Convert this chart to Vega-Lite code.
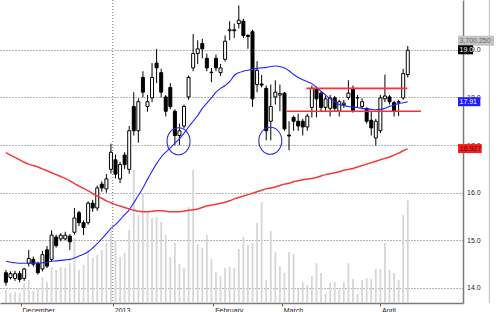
{
  "$schema": "https://vega.github.io/schema/vega-lite/v6.json",
  "width": 463,
  "height": 303,
  "autosize": {"type": "none"},
  "padding": {"left": 0, "top": 0, "right": 37, "bottom": 9},
  "background": "white",
  "config": {
    "view": {"stroke": null},
    "font": "Liberation Sans"
  },
  "datasets": {
    "candles": [
      {"i":0,"o":14.32,"h":14.38,"l":14.05,"c":14.12,"v":467025,"m20":14.56,"m50":16.84},
      {"i":1,"o":14.22,"h":14.35,"l":14.18,"c":14.30,"v":359250,"m20":14.54,"m50":16.79},
      {"i":2,"o":14.20,"h":14.36,"l":14.15,"c":14.30,"v":395175,"m20":14.53,"m50":16.74},
      {"i":3,"o":14.30,"h":14.36,"l":14.12,"c":14.18,"v":359250,"m20":14.52,"m50":16.69},
      {"i":4,"o":14.20,"h":14.42,"l":14.15,"c":14.40,"v":718500,"m20":14.52,"m50":16.64},
      {"i":5,"o":14.52,"h":14.80,"l":14.45,"c":14.62,"v":826275,"m20":14.52,"m50":16.60},
      {"i":6,"o":14.60,"h":14.66,"l":14.45,"c":14.50,"v":431100,"m20":14.52,"m50":16.57},
      {"i":7,"o":14.52,"h":14.55,"l":14.28,"c":14.32,"v":538875,"m20":14.52,"m50":16.54},
      {"i":8,"o":14.40,"h":14.78,"l":14.35,"c":14.70,"v":934050,"m20":14.53,"m50":16.50},
      {"i":9,"o":14.80,"h":14.88,"l":14.42,"c":14.46,"v":754425,"m20":14.54,"m50":16.46},
      {"i":10,"o":14.60,"h":15.21,"l":14.55,"c":15.11,"v":1293300,"m20":14.56,"m50":16.42},
      {"i":11,"o":15.07,"h":15.12,"l":14.85,"c":14.89,"v":1185525,"m20":14.57,"m50":16.38},
      {"i":12,"o":15.03,"h":15.15,"l":14.98,"c":15.11,"v":1293300,"m20":14.58,"m50":16.34},
      {"i":13,"o":15.03,"h":15.18,"l":15.00,"c":15.11,"v":1257375,"m20":14.59,"m50":16.30},
      {"i":14,"o":15.09,"h":15.13,"l":14.80,"c":14.97,"v":1437000,"m20":14.60,"m50":16.25},
      {"i":15,"o":15.17,"h":15.68,"l":15.12,"c":15.47,"v":2335125,"m20":14.63,"m50":16.19},
      {"i":16,"o":15.58,"h":15.62,"l":15.30,"c":15.37,"v":1185525,"m20":14.67,"m50":16.14},
      {"i":17,"o":15.37,"h":15.42,"l":15.11,"c":15.27,"v":1365150,"m20":14.71,"m50":16.09},
      {"i":18,"o":15.37,"h":15.82,"l":15.33,"c":15.78,"v":1904025,"m20":14.76,"m50":16.04},
      {"i":19,"o":15.78,"h":15.85,"l":15.60,"c":15.68,"v":1616625,"m20":14.84,"m50":15.98},
      {"i":20,"o":15.68,"h":16.15,"l":15.62,"c":16.10,"v":1724400,"m20":14.93,"m50":15.93},
      {"i":21,"o":16.18,"h":16.24,"l":16.02,"c":16.10,"v":1904025,"m20":15.03,"m50":15.88},
      {"i":22,"o":16.08,"h":16.39,"l":16.00,"c":16.29,"v":2155500,"m20":15.14,"m50":15.83},
      {"i":23,"o":16.49,"h":17.03,"l":16.40,"c":16.85,"v":2622525,"m20":15.25,"m50":15.79},
      {"i":24,"o":16.69,"h":16.80,"l":16.30,"c":16.39,"v":2263275,"m20":15.33,"m50":15.75},
      {"i":25,"o":16.29,"h":16.65,"l":16.20,"c":16.59,"v":1652550,"m20":15.43,"m50":15.72},
      {"i":26,"o":16.79,"h":16.85,"l":16.50,"c":16.59,"v":1796250,"m20":15.54,"m50":15.69},
      {"i":27,"o":16.49,"h":17.40,"l":16.40,"c":17.30,"v":2622525,"m20":15.64,"m50":15.66},
      {"i":28,"o":17.81,"h":18.11,"l":17.20,"c":17.30,"v":4778025,"m20":15.79,"m50":15.63},
      {"i":29,"o":17.30,"h":17.98,"l":17.05,"c":17.91,"v":3161400,"m20":15.94,"m50":15.61},
      {"i":30,"o":18.42,"h":18.55,"l":18.00,"c":18.11,"v":3951750,"m20":16.10,"m50":15.60},
      {"i":31,"o":17.81,"h":18.05,"l":17.70,"c":17.91,"v":3233250,"m20":16.28,"m50":15.60},
      {"i":32,"o":17.99,"h":18.72,"l":17.90,"c":18.42,"v":3053625,"m20":16.45,"m50":15.61},
      {"i":33,"o":18.72,"h":19.02,"l":18.30,"c":18.62,"v":3089550,"m20":16.61,"m50":15.62},
      {"i":34,"o":18.52,"h":18.60,"l":18.00,"c":18.11,"v":2909925,"m20":16.75,"m50":15.62},
      {"i":35,"o":18.01,"h":18.05,"l":17.60,"c":17.71,"v":2442900,"m20":16.85,"m50":15.61},
      {"i":36,"o":18.21,"h":18.30,"l":17.75,"c":17.81,"v":1652550,"m20":16.94,"m50":15.60},
      {"i":37,"o":17.71,"h":17.75,"l":17.00,"c":17.20,"v":2155500,"m20":17.04,"m50":15.60},
      {"i":38,"o":17.20,"h":17.45,"l":17.00,"c":17.30,"v":1401075,"m20":17.13,"m50":15.60},
      {"i":39,"o":17.40,"h":17.85,"l":17.35,"c":17.81,"v":1257375,"m20":17.25,"m50":15.61},
      {"i":40,"o":18.01,"h":18.46,"l":17.95,"c":18.42,"v":3448800,"m20":17.38,"m50":15.63},
      {"i":41,"o":18.62,"h":19.33,"l":18.55,"c":18.92,"v":4778025,"m20":17.50,"m50":15.64},
      {"i":42,"o":18.92,"h":19.20,"l":18.70,"c":19.02,"v":2119575,"m20":17.62,"m50":15.66},
      {"i":43,"o":19.13,"h":19.23,"l":18.82,"c":19.02,"v":1975875,"m20":17.77,"m50":15.69},
      {"i":44,"o":18.82,"h":18.92,"l":18.55,"c":18.62,"v":2442900,"m20":17.88,"m50":15.72},
      {"i":45,"o":18.52,"h":18.62,"l":18.32,"c":18.53,"v":1580700,"m20":17.99,"m50":15.74},
      {"i":46,"o":18.82,"h":18.90,"l":18.55,"c":18.62,"v":1113675,"m20":18.11,"m50":15.76},
      {"i":47,"o":18.52,"h":18.70,"l":18.45,"c":18.62,"v":969975,"m20":18.19,"m50":15.78},
      {"i":48,"o":18.80,"h":19.30,"l":18.75,"c":19.18,"v":1257375,"m20":18.25,"m50":15.80},
      {"i":49,"o":19.40,"h":19.60,"l":19.20,"c":19.42,"v":1293300,"m20":18.33,"m50":15.83},
      {"i":50,"o":19.42,"h":19.55,"l":19.25,"c":19.40,"v":1257375,"m20":18.46,"m50":15.87},
      {"i":51,"o":19.55,"h":19.93,"l":19.45,"c":19.62,"v":1939950,"m20":18.52,"m50":15.90},
      {"i":52,"o":19.60,"h":19.65,"l":19.25,"c":19.30,"v":2371050,"m20":18.55,"m50":15.93},
      {"i":53,"o":19.30,"h":19.33,"l":19.02,"c":19.28,"v":2083650,"m20":18.57,"m50":15.96},
      {"i":54,"o":19.38,"h":19.42,"l":17.80,"c":17.97,"v":2155500,"m20":18.59,"m50":15.99},
      {"i":55,"o":18.27,"h":18.76,"l":18.11,"c":18.57,"v":2874000,"m20":18.61,"m50":16.02},
      {"i":56,"o":18.28,"h":18.47,"l":18.21,"c":18.26,"v":3628425,"m20":18.62,"m50":16.05},
      {"i":57,"o":18.19,"h":18.25,"l":17.10,"c":17.30,"v":826275,"m20":18.63,"m50":16.08},
      {"i":58,"o":17.50,"h":18.27,"l":17.10,"c":17.81,"v":2586600,"m20":18.65,"m50":16.10},
      {"i":59,"o":18.01,"h":18.36,"l":17.85,"c":18.11,"v":1832175,"m20":18.66,"m50":16.12},
      {"i":60,"o":18.05,"h":18.27,"l":17.71,"c":18.08,"v":1329225,"m20":18.65,"m50":16.15},
      {"i":61,"o":18.09,"h":18.11,"l":17.30,"c":17.34,"v":1077750,"m20":18.62,"m50":16.18},
      {"i":62,"o":17.21,"h":17.50,"l":16.89,"c":17.19,"v":1832175,"m20":18.56,"m50":16.20},
      {"i":63,"o":17.58,"h":17.62,"l":17.30,"c":17.50,"v":1760325,"m20":18.48,"m50":16.23},
      {"i":64,"o":17.50,"h":17.66,"l":17.30,"c":17.40,"v":502950,"m20":18.42,"m50":16.25},
      {"i":65,"o":17.50,"h":17.55,"l":17.20,"c":17.38,"v":754425,"m20":18.37,"m50":16.27},
      {"i":66,"o":17.38,"h":17.66,"l":17.30,"c":17.61,"v":646650,"m20":18.33,"m50":16.29},
      {"i":67,"o":17.79,"h":18.25,"l":17.58,"c":18.19,"v":969975,"m20":18.29,"m50":16.30},
      {"i":68,"o":18.17,"h":18.23,"l":17.58,"c":17.97,"v":1437000,"m20":18.21,"m50":16.32},
      {"i":69,"o":18.09,"h":18.12,"l":17.70,"c":17.79,"v":1077750,"m20":18.13,"m50":16.35},
      {"i":70,"o":17.79,"h":18.03,"l":17.70,"c":17.97,"v":323325,"m20":18.05,"m50":16.38},
      {"i":71,"o":17.77,"h":18.05,"l":17.60,"c":17.99,"v":718500,"m20":17.97,"m50":16.40},
      {"i":72,"o":17.99,"h":18.03,"l":17.70,"c":17.77,"v":754425,"m20":17.91,"m50":16.42},
      {"i":73,"o":17.71,"h":17.95,"l":17.60,"c":17.91,"v":538875,"m20":17.85,"m50":16.44},
      {"i":74,"o":17.85,"h":17.95,"l":17.78,"c":17.88,"v":754425,"m20":17.83,"m50":16.47},
      {"i":75,"o":18.00,"h":18.36,"l":17.95,"c":18.09,"v":1437000,"m20":17.81,"m50":16.49},
      {"i":76,"o":18.19,"h":18.25,"l":17.68,"c":17.73,"v":862200,"m20":17.80,"m50":16.51},
      {"i":77,"o":17.99,"h":18.05,"l":17.80,"c":18.00,"v":323325,"m20":17.79,"m50":16.54},
      {"i":78,"o":17.81,"h":17.98,"l":17.75,"c":17.91,"v":826275,"m20":17.77,"m50":16.57},
      {"i":79,"o":17.77,"h":17.79,"l":17.45,"c":17.50,"v":898125,"m20":17.76,"m50":16.60},
      {"i":80,"o":17.52,"h":17.71,"l":17.20,"c":17.36,"v":862200,"m20":17.75,"m50":16.63},
      {"i":81,"o":17.15,"h":17.55,"l":16.99,"c":17.50,"v":1221450,"m20":17.74,"m50":16.66},
      {"i":82,"o":17.30,"h":18.05,"l":17.25,"c":17.99,"v":1221450,"m20":17.75,"m50":16.69},
      {"i":83,"o":17.97,"h":18.48,"l":17.90,"c":18.03,"v":2155500,"m20":17.77,"m50":16.72},
      {"i":84,"o":18.01,"h":18.05,"l":17.85,"c":17.91,"v":1185525,"m20":17.81,"m50":16.75},
      {"i":85,"o":17.89,"h":17.93,"l":17.60,"c":17.71,"v":1077750,"m20":17.84,"m50":16.79},
      {"i":86,"o":17.90,"h":17.95,"l":17.61,"c":17.91,"v":826275,"m20":17.87,"m50":16.83},
      {"i":87,"o":17.99,"h":18.60,"l":17.95,"c":18.50,"v":3161400,"m20":17.89,"m50":16.88},
      {"i":88,"o":18.48,"h":19.08,"l":18.42,"c":18.99,"v":3700250,"m20":17.91,"m50":16.92}
    ],
    "levels": [
      {"a": 65.8, "b": 87.9, "p": 18.19},
      {"a": 61.5, "b": 90.9, "p": 17.71}
    ],
    "rings": [
      {"ci": 37.8, "cp": 17.08},
      {"ci": 57.9, "cp": 17.09}
    ],
    "tags": [
      {"k": "vol", "v": 19.19, "t": "3,700,250"},
      {"k": "close", "v": 19.0, "t": "19.0"},
      {"k": "ma20", "v": 17.91, "t": "17.91"},
      {"k": "ma50", "v": 16.927, "t": "16.927"}
    ],
    "yearline": [{"xg": 23.4}]
  },
  "layer": [
    {
      "data": {"name": "candles"},
      "mark": {"type": "bar", "size": 1.8, "color": "#d6d6d6"},
      "encoding": {
        "x": {"field": "i", "type": "quantitative", "title": null, "scale": {"domain": [-0.2, 99], "nice": false, "zero": false},
          "axis": {"orient": "bottom", "title": null, "values": [3.2, 23.4, 45.4, 60.4, 81.9], "labelExpr": "datum.value < 10 ? 'December' : datum.value < 30 ? '2013' : datum.value < 50 ? 'February' : datum.value < 70 ? 'March' : 'April'", "labelAlign": "left", "labelBaseline": "top", "labelPadding": 0, "labelOffset": 1.5, "tickSize": 3, "tickColor": "#555", "grid": false, "labelFontSize": 7, "labelFont": "Liberation Sans", "labelColor": "#222", "domainColor": "#7a7a7a", "domainWidth": 1.5, "labelFlush": false, "labelOverlap": false}},
        "y": {"field": "v", "type": "quantitative", "scale": {"domain": [0, 10885000], "nice": false}, "axis": null}
      }
    },
    {
      "layer": [
        {
          "data": {"name": "yearline"},
          "mark": {"type": "rule", "color": "#707070", "strokeDash": [1, 2], "strokeWidth": 1},
          "encoding": {
            "x": {"field": "xg", "type": "quantitative", "title": null, "scale": {"domain": [-0.2, 99], "nice": false, "zero": false}}
          }
        },
        {
          "data": {"name": "yearline"},
          "mark": {"type": "rule", "color": "#bdbdbd", "strokeWidth": 1},
          "encoding": {
            "x": {"datum": 105.86, "type": "quantitative", "title": null, "scale": {"domain": [-0.2, 99], "nice": false, "zero": false}}
          }
        },
        {
          "data": {"name": "candles"},
          "mark": {"type": "rule", "color": "black", "strokeWidth": 1},
          "encoding": {
            "x": {"field": "i", "type": "quantitative", "title": null, "scale": {"domain": [-0.2, 99], "nice": false, "zero": false}},
            "y": {"field": "l", "type": "quantitative", "title": null, "scale": {"domain": [13.79, 19.94], "nice": false, "zero": false},
              "axis": {"orient": "right", "title": null, "values": [14, 15, 16, 17, 18, 19], "format": ".1f", "grid": true, "gridColor": "#6a6a6a", "gridDash": [1, 2], "gridWidth": 1, "ticks": false, "labelPadding": 3.5, "labelFontSize": 7, "labelFont": "Liberation Sans", "labelColor": "#222", "domainColor": "#7a7a7a", "domainWidth": 1.5}},
            "y2": {"field": "h"}
          }
        },
        {
          "data": {"name": "candles"},
          "mark": {"type": "bar", "size": 3, "stroke": "black", "strokeWidth": 1},
          "encoding": {
            "x": {"field": "i", "type": "quantitative", "title": null, "scale": {"domain": [-0.2, 99], "nice": false, "zero": false}},
            "y": {"field": "o", "type": "quantitative", "title": null, "scale": {"domain": [13.79, 19.94], "nice": false, "zero": false}},
            "y2": {"field": "c"},
            "fill": {"condition": {"test": "datum.c < datum.o", "value": "black"}, "value": "white"}
          }
        },
        {
          "data": {"name": "candles"},
          "mark": {"type": "line", "color": "#2424ff", "strokeWidth": 1.1, "interpolate": "monotone"},
          "encoding": {
            "x": {"field": "i", "type": "quantitative", "title": null, "scale": {"domain": [-0.2, 99], "nice": false, "zero": false}},
            "y": {"field": "m20", "type": "quantitative", "title": null, "scale": {"domain": [13.79, 19.94], "nice": false, "zero": false}}
          }
        },
        {
          "data": {"name": "candles"},
          "mark": {"type": "line", "color": "#f23a3a", "strokeWidth": 1.5, "interpolate": "monotone"},
          "encoding": {
            "x": {"field": "i", "type": "quantitative", "title": null, "scale": {"domain": [-0.2, 99], "nice": false, "zero": false}},
            "y": {"field": "m50", "type": "quantitative", "title": null, "scale": {"domain": [13.79, 19.94], "nice": false, "zero": false}}
          }
        },
        {
          "data": {"name": "levels"},
          "mark": {"type": "rule", "color": "#ff3030", "strokeWidth": 1.6},
          "encoding": {
            "x": {"field": "a", "type": "quantitative", "title": null, "scale": {"domain": [-0.2, 99], "nice": false, "zero": false}},
            "x2": {"field": "b"},
            "y": {"field": "p", "type": "quantitative", "title": null, "scale": {"domain": [13.79, 19.94], "nice": false, "zero": false}}
          }
        },
        {
          "data": {"name": "rings"},
          "mark": {"type": "point", "filled": false, "stroke": "#2a2ae6", "strokeWidth": 1.1, "opacity": 1, "size": 729, "shape": "M-0.85,0A0.85,1,0,1,1,0.85,0A0.85,1,0,1,1,-0.85,0Z"},
          "encoding": {
            "x": {"field": "ci", "type": "quantitative", "title": null, "scale": {"domain": [-0.2, 99], "nice": false, "zero": false}},
            "y": {"field": "cp", "type": "quantitative", "title": null, "scale": {"domain": [13.79, 19.94], "nice": false, "zero": false}}
          }
        },
        {
          "data": {"name": "tags"},
          "transform": [{"filter": "datum.k == 'vol'"}],
          "mark": {"type": "bar", "size": 10, "color": "#c4c4c4"},
          "encoding": {
            "x": {"datum": 99, "type": "quantitative", "title": null, "scale": {"domain": [-0.2, 99], "nice": false, "zero": false}},
            "x2": {"datum": 106.9},
            "y": {"field": "v", "type": "quantitative", "title": null, "scale": {"domain": [13.79, 19.94], "nice": false, "zero": false}}
          }
        },
        {
          "data": {"name": "tags"},
          "transform": [{"filter": "datum.k == 'close'"}],
          "mark": {"type": "bar", "size": 9, "color": "black"},
          "encoding": {
            "x": {"datum": 99, "type": "quantitative", "title": null, "scale": {"domain": [-0.2, 99], "nice": false, "zero": false}},
            "x2": {"datum": 102.3},
            "y": {"field": "v", "type": "quantitative", "title": null, "scale": {"domain": [13.79, 19.94], "nice": false, "zero": false}}
          }
        },
        {
          "data": {"name": "tags"},
          "transform": [{"filter": "datum.k == 'ma20'"}],
          "mark": {"type": "bar", "size": 9, "color": "#1f1fff"},
          "encoding": {
            "x": {"datum": 99, "type": "quantitative", "title": null, "scale": {"domain": [-0.2, 99], "nice": false, "zero": false}},
            "x2": {"datum": 103.9},
            "y": {"field": "v", "type": "quantitative", "title": null, "scale": {"domain": [13.79, 19.94], "nice": false, "zero": false}}
          }
        },
        {
          "data": {"name": "tags"},
          "transform": [{"filter": "datum.k == 'ma50'"}],
          "mark": {"type": "bar", "size": 9, "color": "#ff1a1a"},
          "encoding": {
            "x": {"datum": 99, "type": "quantitative", "title": null, "scale": {"domain": [-0.2, 99], "nice": false, "zero": false}},
            "x2": {"datum": 104.2},
            "y": {"field": "v", "type": "quantitative", "title": null, "scale": {"domain": [13.79, 19.94], "nice": false, "zero": false}}
          }
        },
        {
          "data": {"name": "tags"},
          "mark": {"type": "text", "align": "left", "baseline": "middle", "dx": 1.5, "fontSize": 7, "font": "Liberation Sans"},
          "encoding": {
            "x": {"datum": 99, "type": "quantitative", "title": null, "scale": {"domain": [-0.2, 99], "nice": false, "zero": false}},
            "y": {"field": "v", "type": "quantitative", "title": null, "scale": {"domain": [13.79, 19.94], "nice": false, "zero": false}},
            "text": {"field": "t"},
            "color": {"field": "k", "type": "nominal", "scale": {"domain": ["vol", "close", "ma20", "ma50"], "range": ["#6a6a6a", "#ffffff", "#ffffff", "#222222"]}, "legend": null}
          }
        }
      ]
    }
  ],
  "resolve": {"scale": {"y": "independent"}}
}
